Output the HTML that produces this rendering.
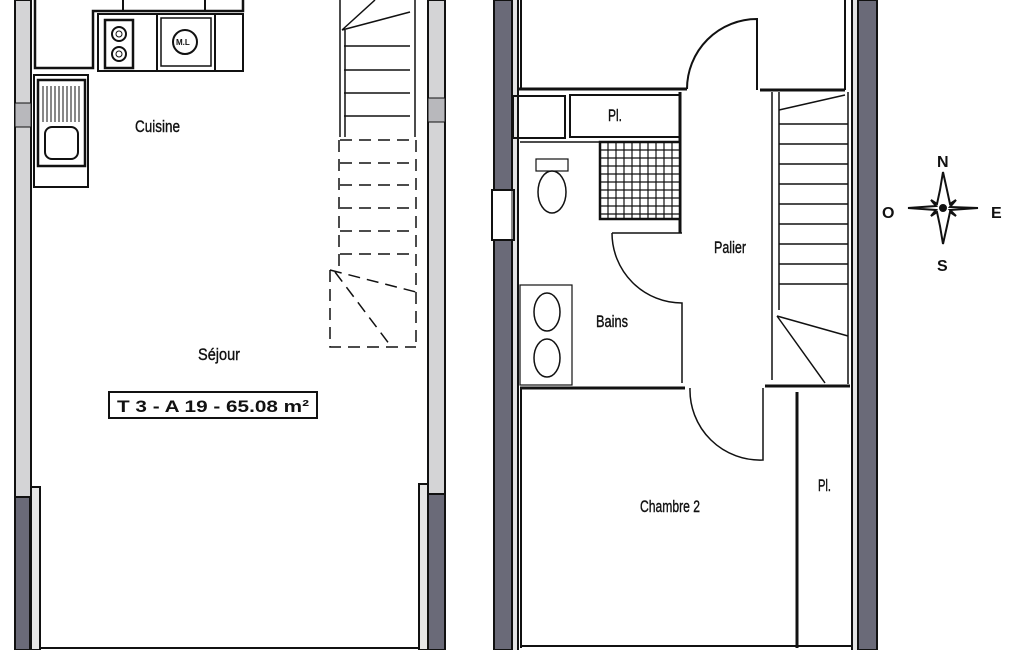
<!DOCTYPE html>
<html><head><meta charset="utf-8"><style>
html,body{margin:0;padding:0;background:#fff;}
svg{display:block;}
text{font-family:"Liberation Sans",sans-serif;}
</style></head><body>
<svg width="1025" height="650" viewBox="0 0 1025 650" xmlns="http://www.w3.org/2000/svg">
<rect width="1025" height="650" fill="#fff"/>
<g stroke="#111" stroke-width="2" fill="none">
<!-- LEFT PLAN walls -->
<rect x="15" y="0" width="16" height="497" fill="#d4d4d6"/>
<rect x="15" y="497" width="15" height="153" fill="#6a6a78"/>
<rect x="31" y="487" width="9" height="163" fill="#e6e6e6"/>
<rect x="15" y="103" width="16" height="24" fill="#b8b8bc" stroke-width="1"/>
<rect x="428" y="0" width="17" height="494" fill="#d4d4d6"/>
<rect x="428" y="494" width="17" height="156" fill="#6a6a78"/>
<rect x="419" y="484" width="9" height="166" fill="#e6e6e6"/>
<rect x="428" y="98" width="17" height="24" fill="#b8b8bc" stroke-width="1"/>
<line x1="40" y1="648" x2="419" y2="648"/>
<!-- kitchen counters -->
<path d="M35 0 V68 H93 V11 H243 V0" stroke-width="2.5"/>
<line x1="123" y1="0" x2="123" y2="11"/><line x1="205" y1="0" x2="205" y2="11"/>
<rect x="98" y="14" width="145" height="57" fill="#fff"/>
<line x1="157" y1="14" x2="157" y2="71"/>
<line x1="215" y1="14" x2="215" y2="71"/>
<rect x="105" y="20" width="28" height="48" stroke-width="2.5"/>
<circle cx="119" cy="34" r="7"/><circle cx="119" cy="54" r="7"/>
<circle cx="119" cy="34" r="3" stroke-width="1"/><circle cx="119" cy="54" r="3" stroke-width="1"/>
<rect x="161" y="18" width="50" height="48" stroke-width="1.5"/>
<circle cx="185" cy="42" r="12"/>
<rect x="34" y="75" width="54" height="112" fill="#fff"/>
<rect x="38" y="80" width="47" height="86" stroke-width="2.5"/>
<rect x="45" y="127" width="33" height="32" rx="7"/>
<g stroke-width="1">
<line x1="43" y1="86" x2="43" y2="122"/><line x1="47" y1="86" x2="47" y2="122"/><line x1="51" y1="86" x2="51" y2="122"/><line x1="55" y1="86" x2="55" y2="122"/><line x1="59" y1="86" x2="59" y2="122"/><line x1="63" y1="86" x2="63" y2="122"/><line x1="67" y1="86" x2="67" y2="122"/><line x1="71" y1="86" x2="71" y2="122"/><line x1="75" y1="86" x2="75" y2="122"/><line x1="79" y1="86" x2="79" y2="122"/>
</g>
<!-- stairs left -->
<path d="M340 0 V137 M345 30 V137 M415 0 V137" stroke-width="1.5"/>
<path d="M342 30 L410 12 M342 30 L375 0" stroke-width="1.5"/>
<g stroke-width="1.5">
<line x1="344" y1="46" x2="410" y2="46"/><line x1="344" y1="70" x2="410" y2="70"/><line x1="344" y1="93" x2="410" y2="93"/><line x1="344" y1="116" x2="410" y2="116"/>
</g>
<g stroke-width="1.5" stroke-dasharray="12,7">
<line x1="340" y1="140" x2="416" y2="140"/><line x1="340" y1="163" x2="416" y2="163"/><line x1="340" y1="185" x2="416" y2="185"/><line x1="340" y1="208" x2="416" y2="208"/><line x1="340" y1="231" x2="416" y2="231"/><line x1="340" y1="254" x2="416" y2="254"/>
<line x1="339" y1="140" x2="339" y2="270"/><line x1="416" y1="140" x2="416" y2="347"/>
<path d="M330 270 V347 H416"/><path d="M330 270 L416 292 M335 272 L390 345"/>
</g>
<rect x="109" y="392" width="208" height="26" stroke-width="2"/>
<!-- RIGHT PLAN walls -->
<rect x="512" y="0" width="6" height="650" fill="#e4e4e4" stroke="none"/>
<rect x="852" y="0" width="6" height="650" fill="#e4e4e4" stroke="none"/>
<rect x="494" y="0" width="18" height="190" fill="#6a6a78"/>
<rect x="494" y="240" width="18" height="410" fill="#6a6a78"/>
<rect x="492" y="190" width="22" height="50" fill="#fff"/>
<line x1="512" y1="190" x2="512" y2="240" stroke-width="1"/>
<line x1="518" y1="0" x2="518" y2="650"/>
<rect x="858" y="0" width="19" height="650" fill="#6a6a78"/>
<line x1="852" y1="0" x2="852" y2="650"/>
<line x1="521" y1="0" x2="521" y2="90"/><line x1="845" y1="0" x2="845" y2="90"/>
<line x1="518" y1="89" x2="687" y2="89" stroke-width="3"/>
<line x1="760" y1="90" x2="845" y2="90" stroke-width="3"/>
<path d="M687 89 A70 70 0 0 1 757 19 V90" />
<rect x="513" y="96" width="52" height="42"/>
<rect x="570" y="95" width="110" height="42"/>
<line x1="680" y1="92" x2="680" y2="233" stroke-width="3"/>
<line x1="520" y1="142" x2="680" y2="142" stroke-width="1.5"/>
<rect x="600" y="142" width="80" height="77" fill="#fff" stroke-width="2.5"/>
<g stroke-width="1.2">
<line x1="608" y1="142" x2="608" y2="219"/><line x1="616" y1="142" x2="616" y2="219"/><line x1="624" y1="142" x2="624" y2="219"/><line x1="632" y1="142" x2="632" y2="219"/><line x1="640" y1="142" x2="640" y2="219"/><line x1="648" y1="142" x2="648" y2="219"/><line x1="656" y1="142" x2="656" y2="219"/><line x1="664" y1="142" x2="664" y2="219"/><line x1="672" y1="142" x2="672" y2="219"/>
<line x1="600" y1="150" x2="680" y2="150"/><line x1="600" y1="158" x2="680" y2="158"/><line x1="600" y1="166" x2="680" y2="166"/><line x1="600" y1="174" x2="680" y2="174"/><line x1="600" y1="182" x2="680" y2="182"/><line x1="600" y1="190" x2="680" y2="190"/><line x1="600" y1="198" x2="680" y2="198"/><line x1="600" y1="206" x2="680" y2="206"/><line x1="600" y1="214" x2="680" y2="214"/>
</g>
<rect x="536" y="159" width="32" height="12" stroke-width="1.2"/>
<ellipse cx="552" cy="192" rx="14" ry="21" stroke-width="1.5"/>
<path d="M612 233 H682 M612 233 A70 70 0 0 0 682 303 V383" stroke-width="1.5"/>
<rect x="520" y="285" width="52" height="100" stroke-width="1.2"/>
<ellipse cx="547" cy="312" rx="13" ry="19" stroke-width="1.5"/><ellipse cx="547" cy="358" rx="13" ry="19" stroke-width="1.5"/>
<line x1="520" y1="388" x2="685" y2="388" stroke-width="3"/>
<path d="M772 92 V380 M779 92 V310 M848 92 V384" stroke-width="1.5"/>
<path d="M779 110 L845 95" stroke-width="1.5"/>
<g stroke-width="1.5">
<line x1="779" y1="124" x2="848" y2="124"/><line x1="779" y1="144" x2="848" y2="144"/><line x1="779" y1="164" x2="848" y2="164"/><line x1="779" y1="184" x2="848" y2="184"/><line x1="779" y1="204" x2="848" y2="204"/><line x1="779" y1="224" x2="848" y2="224"/><line x1="779" y1="244" x2="848" y2="244"/><line x1="779" y1="264" x2="848" y2="264"/><line x1="779" y1="284" x2="848" y2="284"/>
</g>
<path d="M777 316 L848 336 M777 316 L825 383" stroke-width="1.5"/>
<line x1="765" y1="386" x2="850" y2="386" stroke-width="3"/>
<path d="M690 388 A70 70 0 0 0 763 460 V388" stroke-width="1.5"/>
<line x1="797" y1="392" x2="797" y2="648" stroke-width="3"/>
<line x1="521" y1="388" x2="521" y2="648"/>
<line x1="521" y1="646" x2="852" y2="646" stroke-width="2"/>
</g>
<g fill="#111" stroke="#111" stroke-width="0.4" font-size="17">
<text x="135" y="132" textLength="45" lengthAdjust="spacingAndGlyphs">Cuisine</text>
<text x="198" y="360" textLength="42" lengthAdjust="spacingAndGlyphs">Séjour</text>
<text x="117" y="412" textLength="192" lengthAdjust="spacingAndGlyphs" font-weight="bold" font-size="17" stroke="none">T 3 - A 19 - 65.08 m²</text>
<text x="176" y="45" font-size="8" stroke="none" font-weight="bold">M.L</text>
<text x="608" y="121" textLength="14" lengthAdjust="spacingAndGlyphs">Pl.</text>
<text x="714" y="253" textLength="32" lengthAdjust="spacingAndGlyphs">Palier</text>
<text x="596" y="327" textLength="32" lengthAdjust="spacingAndGlyphs">Bains</text>
<text x="640" y="512" textLength="60" lengthAdjust="spacingAndGlyphs">Chambre 2</text>
<text x="818" y="491" textLength="13" lengthAdjust="spacingAndGlyphs">Pl.</text>
<g font-weight="bold" font-size="16" stroke="none">
<text x="937" y="167">N</text><text x="882" y="218">O</text><text x="991" y="218">E</text><text x="937" y="271">S</text>
</g>
</g>
<g fill="#fff" stroke="#111" stroke-width="2">
<path d="M943 172 L947 190 L950 204 L956 200 L950 207 L978 208 L950 210 L956 216 L950 212 L947 226 L943 244 L940 226 L937 212 L931 216 L936 210 L908 208 L936 206 L931 200 L937 204 L940 190 Z"/>
<circle cx="943" cy="208" r="3" fill="#111"/>
</g>
</svg>
</body></html>
